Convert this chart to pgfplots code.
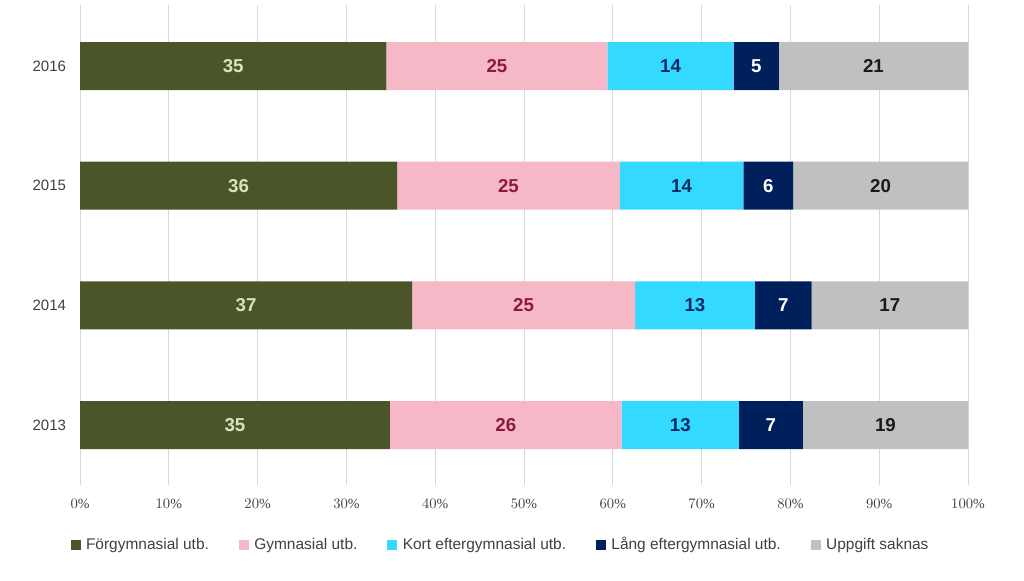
\documentclass[border=0pt]{standalone}
\usepackage{pgfplots}
\pgfplotsset{compat=1.18}
\usepackage{pgfplotstable}
\usepackage{fontspec}
\setmainfont{Liberation Sans}
\newfontfamily\serifticks{Liberation Serif}

\definecolor{cfor}{HTML}{4A5529}
\definecolor{cgym}{HTML}{F6B8C6}
\definecolor{ckort}{HTML}{33D9FF}
\definecolor{clang}{HTML}{00205B}
\definecolor{cupp}{HTML}{C0C0C0}
\definecolor{tfor}{HTML}{D7E4BD}
\definecolor{tgym}{HTML}{8B1A3E}
\definecolor{tkort}{HTML}{0A2A66}
\definecolor{tupp}{HTML}{1A1A1A}

% y: 0=2013 ... 3=2016; v = share in percent; lab = printed label
\pgfplotstableread{
y v lab
3 34.5 35
2 35.7 36
1 37.4 37
0 34.9 35
}\forgym
\pgfplotstableread{
y v lab
3 24.9 25
2 25.1 25
1 25.1 25
0 26.1 26
}\gym
\pgfplotstableread{
y v lab
3 14.2 14
2 13.9 14
1 13.5 13
0 13.2 13
}\kort
\pgfplotstableread{
y v lab
3 5.1 5
2 5.6 6
1 6.4 7
0 7.2 7
}\lang
\pgfplotstableread{
y v lab
3 21.3 21
2 19.7 20
1 17.6 17
0 18.6 19
}\uppg

\begin{document}
\begin{tikzpicture}
\path[use as bounding box] (0,0) rectangle (768pt,435.75pt);
\begin{axis}[
  at={(60pt,72pt)}, anchor=south west,
  scale only axis, width=666pt, height=360pt,
  xbar stacked, bar width=36pt,
  xmin=0, xmax=100, ymin=-0.5, ymax=3.51,
  xtick={0,10,...,100},
  xticklabel={\serifticks\pgfmathprintnumber{\tick}\%},
  xticklabel style={anchor=center, yshift=-14pt, font=\fontsize{10.5}{12}\selectfont, text=black!75},
  ytick={0,1,2,3}, yticklabels={2013,2014,2015,2016},
  yticklabel style={anchor=east, xshift=-7pt, font=\fontsize{11.25}{13}\selectfont, text=black!75},
  xmajorgrids, major grid style={draw=black!15, line width=0.75pt},
  axis line style={draw=none}, tick style={draw=none},
  point meta=explicit symbolic,
  nodes near coords,
  every node near coord/.append style={anchor=center, font=\bfseries\fontsize{14}{16}\selectfont},
  legend columns=5,
  legend style={at={(0.474,0)}, anchor=center, yshift=-45pt, draw=none,
    font=\fontsize{11.6}{14}\selectfont, text=black!75,
    nodes={text height=1.6ex, text depth=0.4ex},
    /tikz/every even column/.append style={column sep=20.5pt},
    /tikz/every odd column/.append style={column sep=2pt}},
  legend image code/.code={\fill[#1] (0pt,-3.75pt) rectangle (7.5pt,3.75pt);},
]
\addplot[fill=cfor, draw=none, every node near coord/.append style={text=tfor}] table[x=v, y=y, meta=lab] {\forgym};
\addplot[fill=cgym, draw=none, every node near coord/.append style={text=tgym}] table[x=v, y=y, meta=lab] {\gym};
\addplot[fill=ckort, draw=none, every node near coord/.append style={text=tkort}] table[x=v, y=y, meta=lab] {\kort};
\addplot[fill=clang, draw=none, every node near coord/.append style={text=white}] table[x=v, y=y, meta=lab] {\lang};
\addplot[fill=cupp, draw=none, every node near coord/.append style={text=tupp}] table[x=v, y=y, meta=lab] {\uppg};
\legend{Förgymnasial utb., Gymnasial utb., Kort eftergymnasial utb., Lång eftergymnasial utb., Uppgift saknas}
\end{axis}
\end{tikzpicture}
\end{document}
